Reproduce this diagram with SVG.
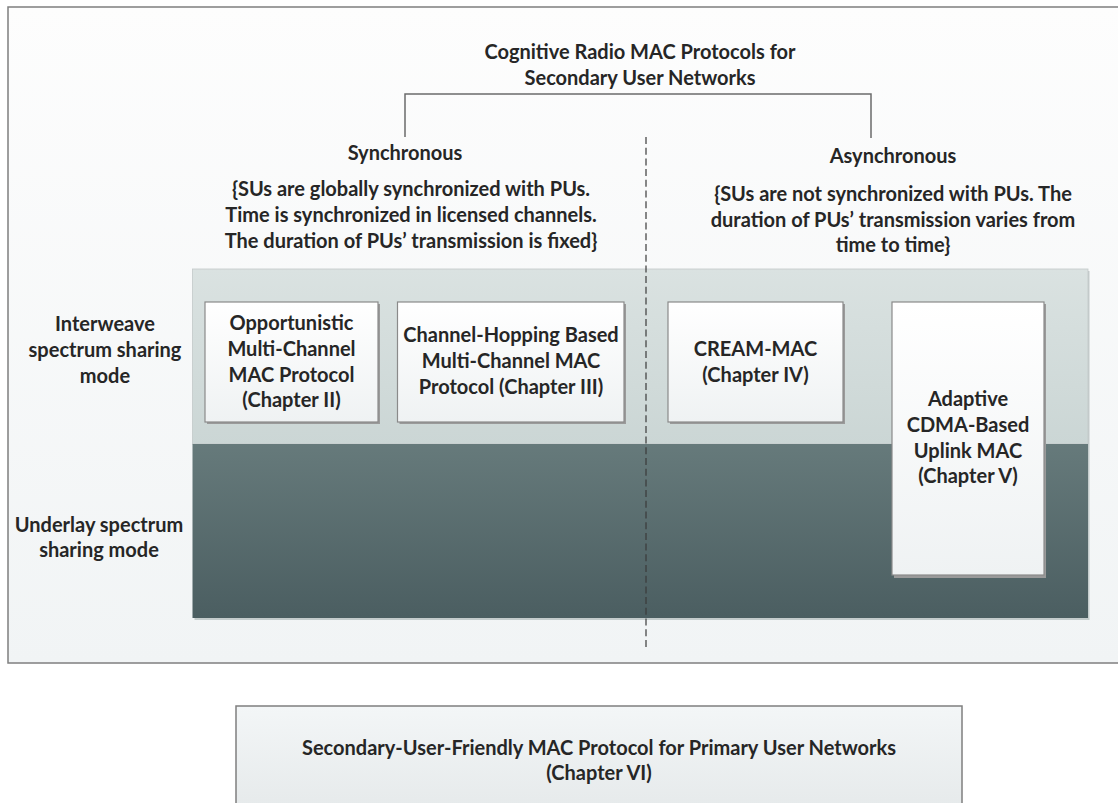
<svg xmlns="http://www.w3.org/2000/svg" width="1118" height="803" viewBox="0 0 1118 803">
  <defs>
    <linearGradient id="frameFill" x1="0" y1="0" x2="0" y2="1">
      <stop offset="0" stop-color="#fdfdfd"/>
      <stop offset="1" stop-color="#f1f4f5"/>
    </linearGradient>
    <linearGradient id="lightBand" x1="0" y1="0" x2="0" y2="1">
      <stop offset="0" stop-color="#dae2e1"/>
      <stop offset="1" stop-color="#cbd6d5"/>
    </linearGradient>
    <linearGradient id="darkBand" x1="0" y1="0" x2="0" y2="1">
      <stop offset="0" stop-color="#667a7b"/>
      <stop offset="1" stop-color="#4b5e61"/>
    </linearGradient>
    <linearGradient id="boxFill" x1="0" y1="0" x2="0" y2="1">
      <stop offset="0" stop-color="#ffffff"/>
      <stop offset="1" stop-color="#eff2f3"/>
    </linearGradient>
    <linearGradient id="bottomFill" x1="0" y1="0" x2="0" y2="1">
      <stop offset="0" stop-color="#f3f6f7"/>
      <stop offset="1" stop-color="#e5e9ea"/>
    </linearGradient>
  </defs>
  <style>
    text { font-family: Lato, "Liberation Sans", sans-serif; font-weight: bold; font-size: 20px; fill: #262626; text-anchor: middle; }
    .box { fill: url(#boxFill); stroke: #8a8a8a; stroke-width: 1.2; }
    .shadow { fill: #9a9a9a; }
    .conn { fill: none; stroke: #6b6b6b; stroke-width: 1.5; }
    .divider { fill: none; stroke: #3a3a3a; stroke-width: 1.2; stroke-dasharray: 7 3.7; }
  </style>

  <rect width="1118" height="803" fill="#ffffff"/>

  <!-- outer frame -->
  <g id="frame">
    <rect x="8" y="7" width="1120" height="656" fill="url(#frameFill)" stroke="#7f7f7f" stroke-width="1.5"/>
  </g>

  <!-- title -->
  <g id="title">
    <text x="640" y="59">Cognitive Radio MAC Protocols for</text>
    <text x="640" y="85">Secondary User Networks</text>
  </g>

  <!-- synchronous branch -->
  <g id="synchronous">
    <text x="405" y="160">Synchronous</text>
    <text x="411" y="195.5">{SUs are globally synchronized with PUs.</text>
    <text x="411" y="221.5">Time is synchronized in licensed channels.</text>
    <text x="411" y="247.5">The duration of PUs’ transmission is fixed}</text>
  </g>

  <!-- asynchronous branch -->
  <g id="asynchronous">
    <text x="893" y="162.5">Asynchronous</text>
    <text x="893" y="200.5">{SUs are not synchronized with PUs. The</text>
    <text x="893" y="226.5">duration of PUs’ transmission varies from</text>
    <text x="893" y="252">time to time}</text>
  </g>

  <!-- spectrum sharing bands -->
  <g id="bands">
    <rect x="194.5" y="271" width="895" height="349" fill="#c4cccc"/>
    <rect x="192.5" y="269" width="895.5" height="175" fill="url(#lightBand)" stroke="#c2c9c9" stroke-width="0.8"/>
    <rect x="192.5" y="444" width="895.5" height="174" fill="url(#darkBand)"/>
  </g>

  <!-- row labels -->
  <g id="interweave-label">
    <text x="105" y="331">Interweave</text>
    <text x="105" y="357">spectrum sharing</text>
    <text x="105" y="383">mode</text>
  </g>
  <g id="underlay-label">
    <text x="99" y="532">Underlay spectrum</text>
    <text x="99" y="557">sharing mode</text>
  </g>

  <!-- protocol nodes -->
  <g id="node-opportunistic">
    <rect class="shadow" x="207" y="304" width="173" height="120"/>
    <rect class="box" x="205" y="302" width="173" height="120"/>
    <text x="291.5" y="330">Opportunistic</text>
    <text x="291.5" y="356">Multi-Channel</text>
    <text x="291.5" y="382">MAC Protocol</text>
    <text x="291.5" y="407">(Chapter II)</text>
  </g>
  <g id="node-channel-hopping">
    <rect class="shadow" x="399.5" y="304" width="226.5" height="120"/>
    <rect class="box" x="397.5" y="302" width="226.5" height="120"/>
    <text x="511" y="342">Channel-Hopping Based</text>
    <text x="511" y="368">Multi-Channel MAC</text>
    <text x="511" y="394">Protocol (Chapter III)</text>
  </g>
  <g id="node-cream-mac">
    <rect class="shadow" x="670" y="304" width="175" height="120"/>
    <rect class="box" x="668" y="302" width="175" height="120"/>
    <text x="755.5" y="356">CREAM-MAC</text>
    <text x="755.5" y="382">(Chapter IV)</text>
  </g>
  <g id="node-adaptive-cdma">
    <rect class="shadow" x="894" y="304" width="152" height="274"/>
    <rect class="box" x="892" y="302" width="152" height="273"/>
    <text x="968" y="406">Adaptive</text>
    <text x="968" y="432">CDMA-Based</text>
    <text x="968" y="458">Uplink MAC</text>
    <text x="968" y="483">(Chapter V)</text>
  </g>

  <!-- connectors -->
  <g id="connectors">
    <polyline class="conn" points="405,137 405,94 871,94 871,138"/>
    <line class="divider" x1="646" y1="137" x2="646" y2="647"/>
  </g>

  <!-- primary user network protocol -->
  <g id="node-su-friendly">
    <rect x="236" y="706" width="726" height="110" fill="url(#bottomFill)" stroke="#7f7f7f" stroke-width="1.5"/>
    <text x="599" y="755">Secondary-User-Friendly MAC Protocol for Primary User Networks</text>
    <text x="599" y="780">(Chapter VI)</text>
  </g>
</svg>
